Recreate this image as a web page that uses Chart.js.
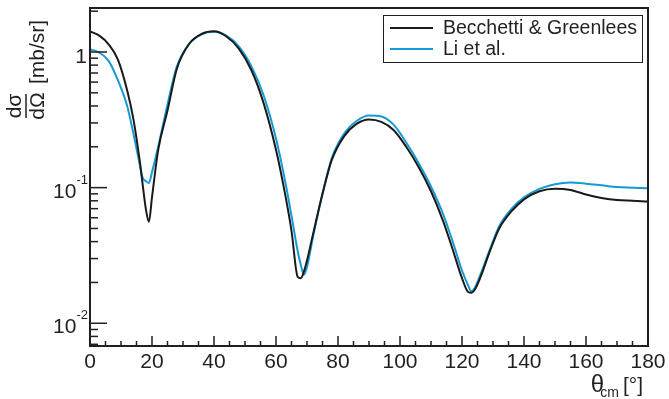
<!DOCTYPE html>
<html>
<head>
<meta charset="utf-8">
<script src="https://cdn.jsdelivr.net/npm/chart.js@4/dist/chart.umd.min.js"></script>
<style>
  html, body { margin: 0; padding: 0; background: #fff; }
  #wrap { width: 669px; height: 399px; }
</style>
</head>
<body>
<div id="wrap"><canvas id="c" width="669" height="399"></canvas></div>
<script>
// angles in degrees (theta_cm), shared by both curves
const angles = [0, 3, 6, 9, 12, 14, 16, 17, 18, 19, 20, 22, 25, 28, 32, 36, 40, 44, 48, 52, 56, 60, 63, 65, 67, 68, 69, 70, 72, 75, 78, 82, 86, 90, 94, 98, 102, 106, 110, 114, 117, 120, 122, 123, 124, 126, 129, 132, 136, 140, 145, 150, 155, 160, 165, 170, 175, 180];

// dsigma/dOmega in mb/sr
const becchetti = [1.42, 1.32, 1.14, 0.88, 0.52, 0.32, 0.16, 0.105, 0.07, 0.056, 0.085, 0.19, 0.37, 0.75, 1.15, 1.36, 1.42, 1.30, 1.06, 0.74, 0.42, 0.19, 0.088, 0.048, 0.022, 0.0215, 0.024, 0.029, 0.046, 0.09, 0.16, 0.24, 0.295, 0.318, 0.305, 0.265, 0.20, 0.142, 0.094, 0.056, 0.035, 0.0215, 0.017, 0.0168, 0.0175, 0.022, 0.034, 0.05, 0.067, 0.082, 0.094, 0.098, 0.096, 0.089, 0.084, 0.081, 0.080, 0.079];
const liEtAl = [1.05, 0.99, 0.86, 0.62, 0.40, 0.25, 0.15, 0.118, 0.112, 0.108, 0.13, 0.2, 0.41, 0.78, 1.15, 1.35, 1.41, 1.32, 1.10, 0.79, 0.48, 0.23, 0.11, 0.062, 0.034, 0.027, 0.0228, 0.026, 0.044, 0.09, 0.165, 0.25, 0.31, 0.34, 0.335, 0.29, 0.215, 0.152, 0.102, 0.063, 0.04, 0.0245, 0.019, 0.0172, 0.018, 0.023, 0.035, 0.052, 0.07, 0.085, 0.098, 0.106, 0.109, 0.107, 0.104, 0.101, 0.100, 0.099];

const seriesNames = ['Becchetti & Greenlees', 'Li et al.'];
const xTickLabels = [0, 20, 40, 60, 80, 100, 120, 140, 160, 180];
const yTickExponents = [0, -1, -2];

const FONT = '"Liberation Sans", Arial, sans-serif';
const INK = '#231f20';

function toPoints(vals) {
  return angles.map((a, i) => ({ x: a, y: vals[i] }));
}

// ROOT-like frame, inward ticks, labels, titles and legend
const rootStyle = {
  id: 'rootStyle',
  afterDraw(chart) {
    const ctx = chart.ctx;
    const a = chart.chartArea;
    const xs = chart.scales.x, ys = chart.scales.y;
    ctx.save();
    ctx.strokeStyle = INK;
    ctx.fillStyle = INK;

    // frame
    ctx.lineWidth = 2;
    ctx.strokeRect(a.left, a.top, a.right - a.left, a.bottom - a.top);

    // x ticks
    ctx.lineWidth = 1.5;
    for (let v = 0; v <= 180; v += 5) {
      const px = xs.getPixelForValue(v);
      const len = v % 20 === 0 ? 10 : 5;
      ctx.beginPath();
      ctx.moveTo(px, a.bottom);
      ctx.lineTo(px, a.bottom - len);
      ctx.stroke();
    }
    // y ticks (log)
    for (let e = -3; e <= 0; e++) {
      for (let m = 1; m <= 9; m++) {
        const v = m * Math.pow(10, e);
        if (v < ys.min || v > ys.max) continue;
        const py = ys.getPixelForValue(v);
        const len = m === 1 ? 17 : 8;
        ctx.beginPath();
        ctx.moveTo(a.left, py);
        ctx.lineTo(a.left + len, py);
        ctx.stroke();
      }
    }

    // x tick labels
    ctx.font = '21px ' + FONT;
    ctx.textAlign = 'center';
    ctx.textBaseline = 'alphabetic';
    xTickLabels.forEach(v => {
      ctx.fillText(String(v), xs.getPixelForValue(v), a.bottom + 22);
    });

    // y tick labels
    yTickExponents.forEach(e => {
      const py = ys.getPixelForValue(Math.pow(10, e));
      if (e === 0) {
        ctx.font = '21px ' + FONT;
        ctx.textAlign = 'right';
        ctx.fillText('1', 87, py + 11);
      } else {
        ctx.font = '13px ' + FONT;
        ctx.textAlign = 'right';
        const sup = '-' + Math.abs(e);
        ctx.fillText(sup, 88, py - 4);
        const sw = ctx.measureText(sup).width;
        ctx.font = '21px ' + FONT;
        ctx.fillText('10', 88 - sw, py + 10);
      }
    });

    // y title: d sigma / d Omega [mb/sr]
    ctx.font = '21px ' + FONT;
    ctx.textAlign = 'center';
    const fy = 106;
    ctx.save(); ctx.translate(21, fy); ctx.rotate(-Math.PI / 2); ctx.fillText('dσ', 0, 0); ctx.restore();
    ctx.save(); ctx.translate(44, fy); ctx.rotate(-Math.PI / 2); ctx.fillText('dΩ', 0, 0); ctx.restore();
    ctx.lineWidth = 1.5;
    ctx.beginPath(); ctx.moveTo(26, fy - 12); ctx.lineTo(26, fy + 12); ctx.stroke();
    ctx.textAlign = 'left';
    ctx.save(); ctx.translate(44, 84); ctx.rotate(-Math.PI / 2); ctx.fillText('[mb/sr]', 0, 0); ctx.restore();

    // x title: theta_cm [deg]
    ctx.textAlign = 'right';
    ctx.font = '21px ' + FONT;
    ctx.fillText('[°]', 643, 392);
    ctx.font = '14px ' + FONT;
    ctx.fillText('cm', 619, 397);
    ctx.font = '24px ' + FONT;
    ctx.fillText('θ', 604, 392);

    // legend
    ctx.fillStyle = '#fff';
    ctx.fillRect(383, 15, 260, 48);
    ctx.lineWidth = 1;
    ctx.strokeStyle = INK;
    ctx.strokeRect(383.5, 15.5, 259, 47);
    ctx.font = '19.5px ' + FONT;
    ctx.textAlign = 'left';
    chart.data.datasets.forEach((ds, i) => {
      const ly = 28 + i * 21;
      ctx.strokeStyle = ds.borderColor;
      ctx.lineWidth = 2;
      ctx.beginPath(); ctx.moveTo(390, ly); ctx.lineTo(433, ly); ctx.stroke();
      ctx.fillStyle = INK;
      ctx.fillText(ds.label, 443, ly + 6);
    });
    ctx.restore();
  }
};

new Chart(document.getElementById('c'), {
  type: 'line',
  data: {
    datasets: [
      { label: seriesNames[0], data: toPoints(becchetti), borderColor: '#1a1a1a', borderWidth: 2, pointRadius: 0, cubicInterpolationMode: 'monotone', fill: false },
      { label: seriesNames[1], data: toPoints(liEtAl), borderColor: '#1799d6', borderWidth: 2, pointRadius: 0, cubicInterpolationMode: 'monotone', fill: false }
    ]
  },
  options: {
    responsive: false,
    animation: false,
    devicePixelRatio: 1,
    layout: { padding: { left: 0, right: 21, top: 8, bottom: 0 } },
    plugins: { legend: { display: false }, tooltip: { enabled: false } },
    scales: {
      x: {
        type: 'linear', min: 0, max: 180,
        grid: { display: false }, border: { display: false },
        ticks: { display: false },
        afterFit(s) { s.height = 53; }
      },
      y: {
        type: 'logarithmic', min: 0.0068, max: 2.11,
        grid: { display: false }, border: { display: false },
        ticks: { display: false },
        afterFit(s) { s.width = 90; }
      }
    }
  },
  plugins: [rootStyle]
});
</script>
</body>
</html>
